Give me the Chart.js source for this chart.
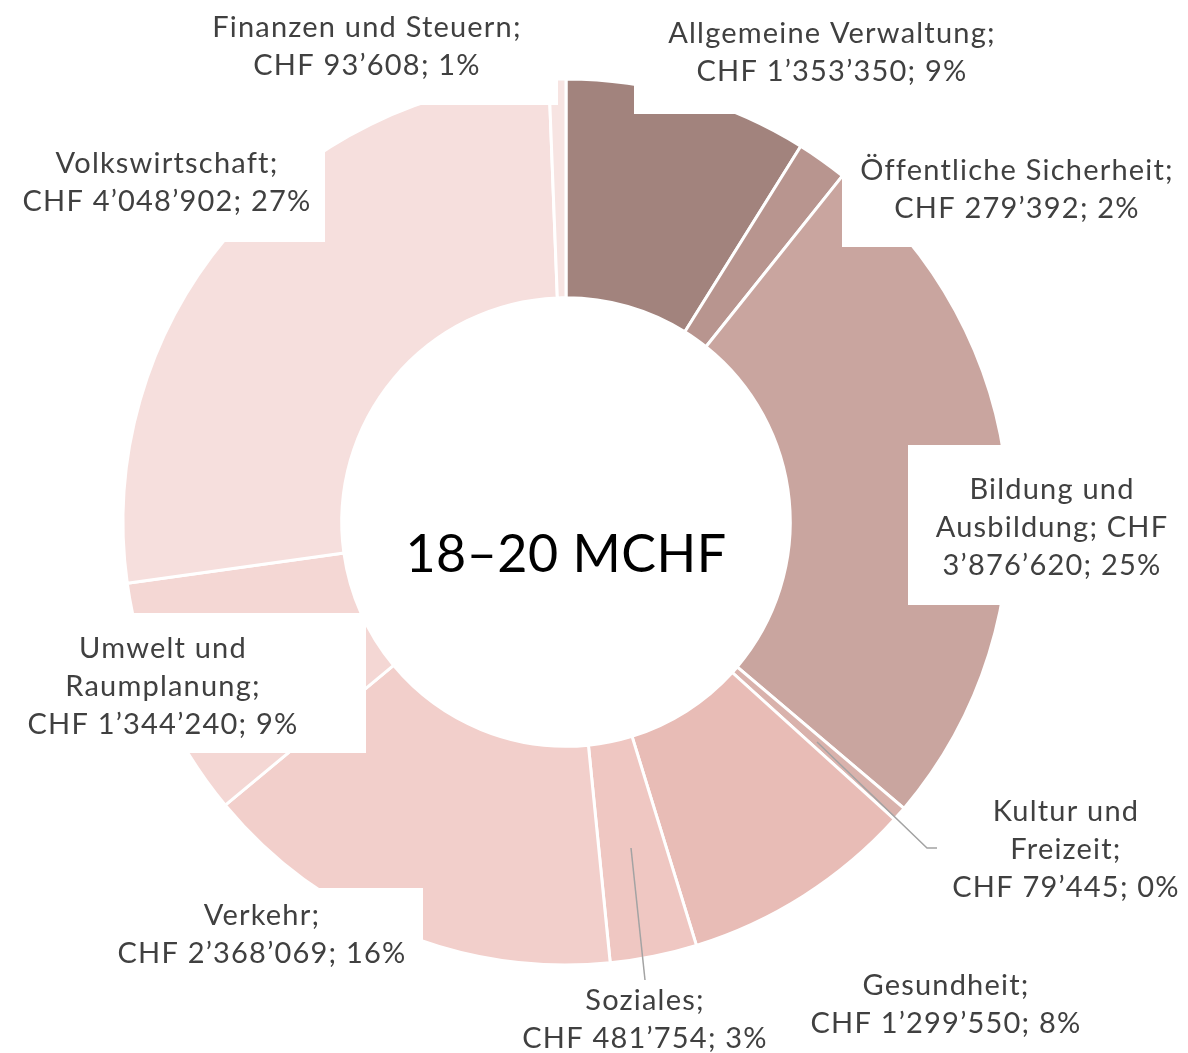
<!DOCTYPE html>
<html>
<head>
<meta charset="utf-8">
<script src="https://cdn.jsdelivr.net/npm/chart.js@4.4.1/dist/chart.umd.min.js"></script>
<style>
  html, body { margin: 0; padding: 0; background: #fff; }
  #wrap { width: 1188px; height: 1053px; }
</style>
</head>
<body>
<div id="wrap"><canvas id="budgetChart" width="1188" height="1053"></canvas></div>
<script>
// budget per area, clockwise from 12 o'clock
const categories = [
  'Allgemeine Verwaltung', 'Öffentliche Sicherheit', 'Bildung und Ausbildung',
  'Kultur und Freizeit', 'Gesundheit', 'Soziales', 'Verkehr',
  'Umwelt und Raumplanung', 'Volkswirtschaft', 'Finanzen und Steuern'
];
const amounts = [1353350, 279392, 3876620, 79445, 1299550, 481754, 2368069, 1344240, 4048902, 93608];
const shares = [9, 2, 25, 0, 8, 3, 16, 9, 27, 1];
const sliceColors = ['#a2837d', '#b8958f', '#c9a59f', '#d9b2ac', '#e8bcb6', '#efc7c2', '#f2cfcb', '#f4d7d4', '#f6dfdd', '#f7e4e2'];
const centerTitle = '18–20 MCHF';

// how many words go on each label line
const wordsPerLine = [[2, 3], [2, 3], [2, 2, 2], [2, 1, 3], [1, 3], [1, 3], [1, 3], [2, 1, 3], [1, 3], [3, 3]];

// label centre x, first baseline y, white backing box [x, y, w, h]
const labelX = [832, 1017, 1052, 1066, 946, 645, 262, 163, 167, 367];
const labelY = [43, 180, 499, 821, 995, 1010, 925, 658, 173, 37];
const labelBox = [
  [634, 0, 400, 114], [842, 140, 346, 107], [908, 445, 280, 160], null, null, null,
  [100, 888, 323, 90], [20, 613, 346, 140], [10, 140, 315, 102], [195, 0, 363, 105]
];
// leader lines for the thin slices
const leaders = [
  [[817, 742], [927, 848], [937, 848]],
  [[631, 848], [645, 980]]
];

function chf(n) {
  return String(n).replace(/\B(?=(\d{3})+(?!\d))/g, '’');
}

function labelLines(i) {
  const words = (categories[i] + '; CHF ' + chf(amounts[i]) + '; ' + shares[i] + '%').split(' ');
  const out = [];
  let k = 0;
  wordsPerLine[i].forEach(function(n) {
    out.push(words.slice(k, k + n).join(' '));
    k += n;
  });
  return out;
}

const labelPlugin = {
  id: 'sliceLabels',
  afterDatasetsDraw: function(chart) {
    const ctx = chart.ctx;
    ctx.save();
    ctx.fillStyle = '#ffffff';
    labelBox.forEach(function(b) {
      if (b) ctx.fillRect(b[0], b[1], b[2], b[3]);
    });

    ctx.strokeStyle = '#a3a3a3';
    ctx.lineWidth = 1.5;
    leaders.forEach(function(pts) {
      ctx.beginPath();
      ctx.moveTo(pts[0][0], pts[0][1]);
      for (let j = 1; j < pts.length; j++) ctx.lineTo(pts[j][0], pts[j][1]);
      ctx.stroke();
    });

    ctx.fillStyle = '#404040';
    ctx.font = '29px Lato';
    ctx.letterSpacing = '1.2px';
    ctx.textAlign = 'center';
    ctx.textBaseline = 'alphabetic';
    categories.forEach(function(c, i) {
      labelLines(i).forEach(function(line, j) {
        ctx.fillText(line, labelX[i], labelY[i] + j * 38);
      });
    });

    const meta = chart.getDatasetMeta(0).data[0];
    ctx.fillStyle = '#000000';
    ctx.font = '52px Lato';
    ctx.letterSpacing = '0.5px';
    ctx.textBaseline = 'middle';
    ctx.fillText(centerTitle, meta.x, meta.y + 33);
    ctx.restore();
  }
};

new Chart(document.getElementById('budgetChart').getContext('2d'), {
  type: 'doughnut',
  data: {
    labels: categories,
    datasets: [{
      data: amounts,
      backgroundColor: sliceColors,
      borderColor: '#ffffff',
      borderWidth: 3
    }]
  },
  options: {
    responsive: false,
    animation: false,
    devicePixelRatio: 1,
    radius: 443,
    cutout: 223,
    layout: { padding: { top: 80, bottom: 89, left: 124, right: 180 } },
    plugins: {
      legend: { display: false },
      tooltip: { enabled: false }
    }
  },
  plugins: [labelPlugin]
});
</script>
</body>
</html>
